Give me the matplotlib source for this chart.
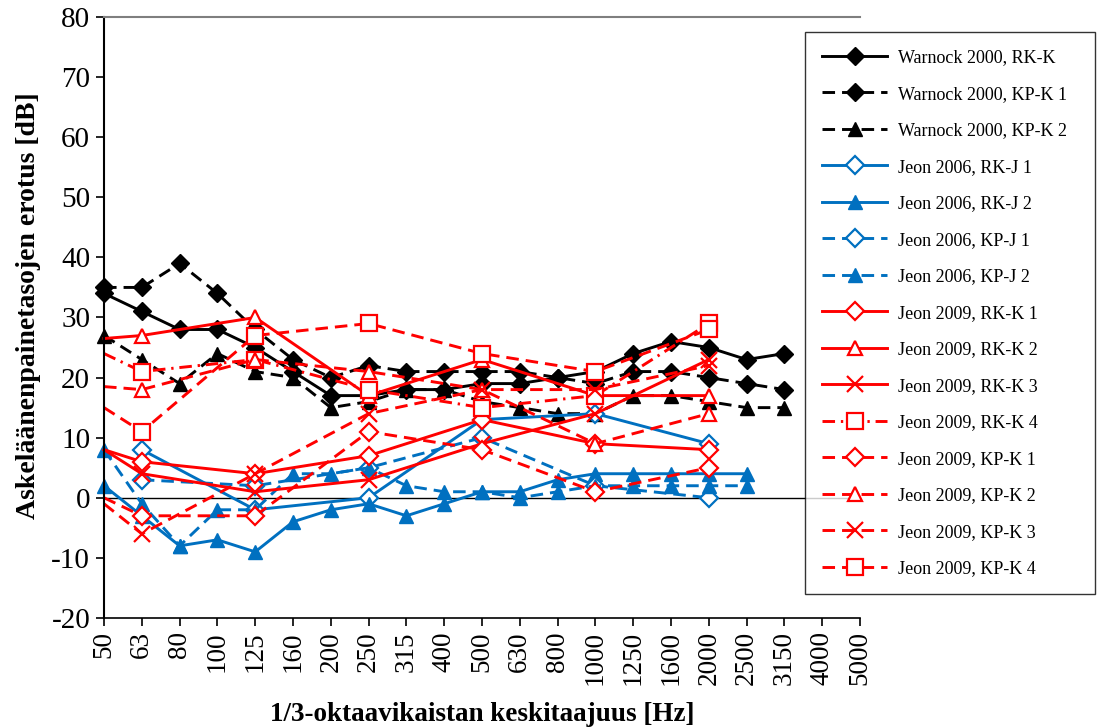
# -*- coding: utf-8 -*-
# Askeläänenpainetasojen erotus 1/3-oktaavikaistoittain (Warnock 2000, Jeon 2006, Jeon 2009)

import numpy as np
import matplotlib
matplotlib.use("Agg")
import matplotlib.pyplot as plt

nan = np.nan

# 1/3-oktaavikaistojen keskitaajuudet
freqs = ["50", "63", "80", "100", "125", "160", "200", "250", "315", "400",
         "500", "630", "800", "1000", "1250", "1600", "2000", "2500", "3150",
         "4000", "5000"]

# Warnock 2000
warnock_rk_k = [34, 31, 28, 28, 25, 21, 17, 17, 18, 18, 19, 19, 20, 21, 24, 26, 25, 23, 24, nan, nan]
warnock_kp_k1 = [35, 35, 39, 34, 28, 23, 20, 22, 21, 21, 21, 21, 20, 19, 21, 21, 20, 19, 18, nan, nan]
warnock_kp_k2 = [27, 23, 19, 24, 21, 20, 15, 16, 18, 18, 16, 15, 14, 14, 17, 17, 16, 15, 15, nan, nan]

# Jeon 2006
jeon06_rk_j1 = [nan, 8, nan, nan, -2, nan, nan, 0, nan, nan, 13, nan, nan, 14, nan, nan, 9, nan, nan, nan, nan]
jeon06_rk_j2 = [2, -3, -8, -7, -9, -4, -2, -1, -3, -1, 1, 1, 3, 4, 4, 4, 4, 4, nan, nan, nan]
jeon06_kp_j1 = [nan, 3, nan, nan, 2, nan, nan, 5, nan, nan, 10, nan, nan, 2, nan, nan, 0, nan, nan, nan, nan]
jeon06_kp_j2 = [8, -1, -8, -2, -2, 4, 4, 5, 2, 1, 1, 0, 1, 2, 2, 2, 2, 2, nan, nan, nan]

# Jeon 2009 (oktaavikaistat, viiva alkaa 50 Hz:stä ilman merkkiä)
jeon09_rk_k1 = [8, 6, nan, nan, 4, nan, nan, 7, nan, nan, 13, nan, nan, 9, nan, nan, 8, nan, nan, nan, nan]
jeon09_rk_k2 = [26.5, 27, nan, nan, 30, nan, nan, 17, nan, nan, 23, nan, nan, 17, nan, nan, 17, nan, nan, nan, nan]
jeon09_rk_k3 = [8, 4, nan, nan, 1, nan, nan, 3, nan, nan, 9, nan, nan, 14, nan, nan, 23, nan, nan, nan, nan]
jeon09_rk_k4 = [24, 21, nan, nan, 23, nan, nan, 18, nan, nan, 15, nan, nan, 17, nan, nan, 29, nan, nan, nan, nan]
jeon09_kp_k1 = [0, -3, nan, nan, -3, nan, nan, 11, nan, nan, 8, nan, nan, 1, nan, nan, 5, nan, nan, nan, nan]
jeon09_kp_k2 = [18.5, 18, nan, nan, 23, nan, nan, 21, nan, nan, 18, nan, nan, 9, nan, nan, 14, nan, nan, nan, nan]
jeon09_kp_k3 = [-1, -6, nan, nan, 4, nan, nan, 14, nan, nan, 18, nan, nan, 18, nan, nan, 22, nan, nan, nan, nan]
jeon09_kp_k4 = [15, 11, nan, nan, 27, nan, nan, 29, nan, nan, 24, nan, nan, 21, nan, nan, 28, nan, nan, nan, nan]

BLACK = "#000000"
BLUE = "#0070C0"
RED = "#FF0000"

SOLID = (None, None)
DASH = (4.3, 2.4)
DASHDOT = (4.3, 2.0, 0.8, 2.0)

# (nimi, data, väri, viiva, merkki, täytetty, merkki 50 Hz:llä)
series = [
    ("Warnock 2000, RK-K", warnock_rk_k, BLACK, SOLID, "D", True, True),
    ("Warnock 2000, KP-K 1", warnock_kp_k1, BLACK, DASH, "D", True, True),
    ("Warnock 2000, KP-K 2", warnock_kp_k2, BLACK, DASH, "^", True, True),
    ("Jeon 2006, RK-J 1", jeon06_rk_j1, BLUE, SOLID, "D", False, True),
    ("Jeon 2006, RK-J 2", jeon06_rk_j2, BLUE, SOLID, "^", True, True),
    ("Jeon 2006, KP-J 1", jeon06_kp_j1, BLUE, DASH, "D", False, True),
    ("Jeon 2006, KP-J 2", jeon06_kp_j2, BLUE, DASH, "^", True, True),
    ("Jeon 2009, RK-K 1", jeon09_rk_k1, RED, SOLID, "D", False, False),
    ("Jeon 2009, RK-K 2", jeon09_rk_k2, RED, SOLID, "^", False, False),
    ("Jeon 2009, RK-K 3", jeon09_rk_k3, RED, SOLID, "x", False, False),
    ("Jeon 2009, RK-K 4", jeon09_rk_k4, RED, DASHDOT, "s", False, False),
    ("Jeon 2009, KP-K 1", jeon09_kp_k1, RED, DASH, "D", False, False),
    ("Jeon 2009, KP-K 2", jeon09_kp_k2, RED, DASH, "^", False, False),
    ("Jeon 2009, KP-K 3", jeon09_kp_k3, RED, DASH, "x", False, False),
    ("Jeon 2009, KP-K 4", jeon09_kp_k4, RED, DASH, "s", False, False),
]

MARKER_SIZE = {"D": 9, "^": 10, "x": 11, "s": 11}

plt.rcParams["font.family"] = ["Liberation Serif", "DejaVu Serif"]
plt.rcParams["axes.unicode_minus"] = False

fig = plt.figure(figsize=(11.09, 7.27), dpi=100)
ax = fig.add_axes([0.0938, 0.150, 0.6817, 0.8266])

x_all = np.arange(len(freqs))
for name, values, color, dash, marker, filled, first_marker in series:
    y = np.array(values, dtype=float)
    ok = ~np.isnan(y)
    xs, ys = x_all[ok], y[ok]
    start = 0 if first_marker else 1
    line, = ax.plot(xs, ys, color=color, lw=2.1, marker=marker,
                    markersize=MARKER_SIZE[marker],
                    markerfacecolor=color if filled else "white",
                    markeredgecolor=color,
                    markeredgewidth=1.6 if not filled else 1.0,
                    markevery=list(range(start, len(xs))),
                    label=name, clip_on=False)
    if dash != SOLID:
        line.set_dashes(dash)

ax.axhline(0, color="black", lw=1.0, zorder=1)

ax.set_xlim(0, len(freqs) - 1)
ax.set_ylim(-20, 80)
ax.set_xticks(x_all)
ax.set_xticklabels(freqs, rotation=90, fontsize=19.5)
ax.set_yticks(np.arange(-20, 81, 10))
ax.tick_params(axis="y", labelsize=21, direction="out", length=6, width=1.2, pad=4)
ax.tick_params(axis="x", direction="out", length=6, width=1.2)

ax.spines["right"].set_visible(False)
ax.spines["top"].set_color("#7f7f7f")
ax.spines["top"].set_linewidth(1.5)
ax.spines["left"].set_linewidth(1.5)
ax.spines["bottom"].set_linewidth(1.2)

ax.set_xlabel("1/3-oktaavikaistan keskitaajuus [Hz]", fontsize=19.5, fontweight="bold", labelpad=12)
ax.set_ylabel("Askeläänenpainetasojen erotus [dB]", fontsize=20, fontweight="bold")
ax.yaxis.set_label_coords(-0.084, 0.52)

leg = fig.legend(loc="upper left", bbox_to_anchor=(0.726, 0.195, 0.261, 0.761),
                 mode="expand", borderaxespad=0, fontsize=13, frameon=True,
                 fancybox=False, edgecolor="black", handlelength=3.6,
                 labelspacing=1.08, borderpad=0.95, handletextpad=0.6)
leg.get_frame().set_linewidth(1.0)

fig.savefig("out.png", dpi=100)
